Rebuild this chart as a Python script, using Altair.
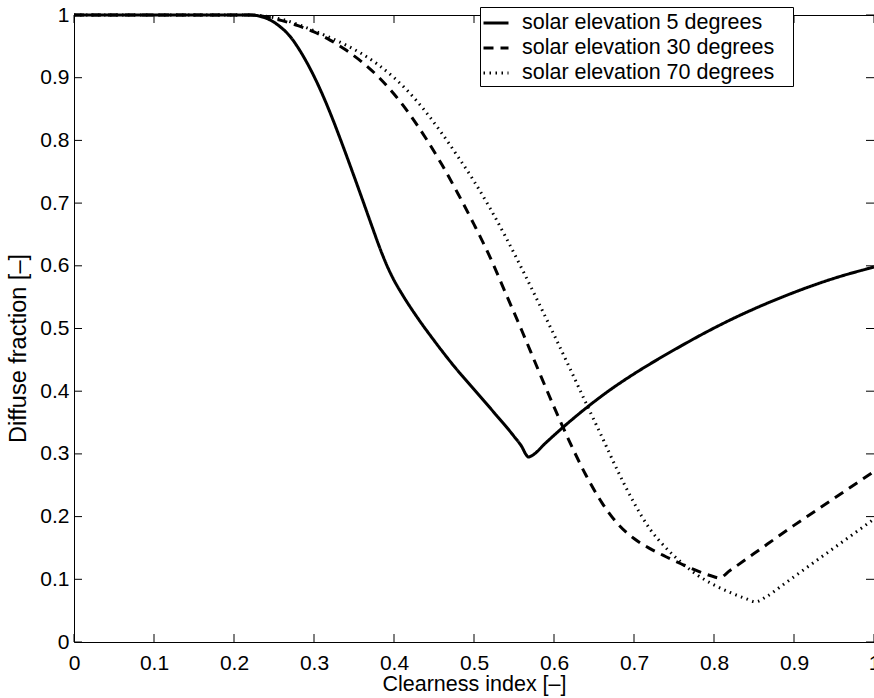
import altair as alt
import pandas as pd

series_names = ["solar elevation 5 degrees", "solar elevation 30 degrees", "solar elevation 70 degrees"]

x5 = [0.0, 0.1, 0.2, 0.22, 0.24, 0.257, 0.27, 0.282, 0.292, 0.302, 0.312, 0.323, 0.335, 0.348, 0.361,
      0.373, 0.383, 0.392, 0.4, 0.41, 0.43, 0.45, 0.475, 0.5, 0.525, 0.55, 0.56, 0.565, 0.568, 0.572,
      0.59, 0.61, 0.639, 0.67, 0.698, 0.73, 0.76, 0.79, 0.8225, 0.855, 0.885, 0.92, 0.95, 1.0]
y5 = [1.0, 1.0, 1.0, 1.0, 0.995, 0.982, 0.966, 0.944, 0.922, 0.897, 0.869, 0.835, 0.795, 0.75, 0.704,
      0.661, 0.626, 0.598, 0.577, 0.555, 0.516, 0.481, 0.44, 0.403, 0.366, 0.328, 0.311, 0.299, 0.295, 0.297,
      0.318, 0.341, 0.372, 0.402, 0.426, 0.451, 0.473, 0.494, 0.515, 0.534, 0.55, 0.567, 0.58, 0.598]

x30 = [0.0, 0.1, 0.2, 0.22, 0.24, 0.26, 0.28, 0.3, 0.32, 0.34, 0.36, 0.38, 0.4, 0.42, 0.44, 0.46,
       0.48, 0.5, 0.52, 0.54, 0.56, 0.58, 0.6, 0.62, 0.64, 0.66, 0.68, 0.7, 0.72, 0.74, 0.76, 0.78,
       0.8, 0.806, 0.82, 0.85, 0.9, 0.95, 1.0]
y30 = [1.0, 1.0, 1.0, 1.0, 0.997, 0.991, 0.983, 0.973, 0.96, 0.944, 0.925, 0.902, 0.874, 0.841, 0.803, 0.761,
       0.715, 0.666, 0.614, 0.555, 0.496, 0.435, 0.375, 0.318, 0.266, 0.222, 0.188, 0.165, 0.149, 0.136, 0.124, 0.113,
       0.104, 0.102, 0.114, 0.141, 0.186, 0.229, 0.272]

x70 = [0.0, 0.1, 0.2, 0.22, 0.24, 0.26, 0.28, 0.3, 0.32, 0.34, 0.36, 0.38, 0.4, 0.42, 0.44, 0.46,
       0.48, 0.5, 0.52, 0.54, 0.56, 0.58, 0.6, 0.62, 0.64, 0.66, 0.68, 0.7, 0.72, 0.74, 0.76, 0.78,
       0.8, 0.82, 0.84, 0.852, 0.865, 0.885, 0.9, 0.95, 1.0]
y70 = [1.0, 1.0, 1.0, 1.0, 0.998, 0.993, 0.985, 0.975, 0.964, 0.952, 0.938, 0.921, 0.9, 0.875, 0.845, 0.811,
       0.774, 0.735, 0.692, 0.645, 0.595, 0.543, 0.49, 0.436, 0.381, 0.327, 0.272, 0.222, 0.18, 0.15, 0.126, 0.106,
       0.091, 0.079, 0.069, 0.064, 0.072, 0.09, 0.104, 0.15, 0.196]

tick_values = [0.0, 0.1, 0.2, 0.3, 0.4, 0.5, 0.6, 0.7, 0.8, 0.9, 1.0]

rows = []
for name, xs, ys in zip(series_names, [x5, x30, x70], [y5, y30, y70]):
    for xv, yv in zip(xs, ys):
        rows.append({"series": name, "ci": xv, "df": yv})
df = pd.DataFrame(rows)
ticks_df = pd.DataFrame({"ci": tick_values, "df": tick_values})

W, H = 800, 627
FONT = "Liberation Sans"
TL = 8

xscale = alt.Scale(domain=[0, 1], nice=False, zero=False)
yscale = alt.Scale(domain=[0, 1], nice=False, zero=False)

xaxis = alt.Axis(values=tick_values, format="~g", title="Clearness index [–]", grid=False,
                 domain=False, ticks=False, tickSize=0, labelPadding=10, labelFontSize=21,
                 titleFontSize=21.5, titleBaseline="alphabetic", titleY=48, labelFlush=False)
yaxis = alt.Axis(values=tick_values, format="~g", title="Diffuse fraction [–]", grid=False,
                 domain=False, ticks=False, tickSize=0, labelPadding=5, labelFontSize=21,
                 titleFontSize=23.5, titleBaseline="alphabetic", titleX=-49, titleY=333,
                 titleAngle=-90, labelFlush=False)

X = alt.X("ci:Q", scale=xscale, axis=xaxis)
Y = alt.Y("df:Q", scale=yscale, axis=yaxis)

legend = alt.Legend(orient="none", legendX=406, legendY=-8, title=None, direction="vertical",
                    symbolType="stroke", symbolSize=625, symbolStrokeColor="black",
                    labelFont=FONT, labelFontSize=21.5, labelColor="black", labelOffset=12,
                    labelLimit=600, padding=2, rowPadding=0, strokeColor="black", fillColor="white",
                    cornerRadius=0, labelExpr="datum.label + '\u2800'")

lines = alt.Chart(df).mark_line(interpolate="monotone", color="black").encode(
    x=X, y=Y,
    order=alt.Order("ci:Q"),
    strokeDash=alt.StrokeDash("series:N", scale=alt.Scale(domain=series_names,
                              range=[[1, 0], [10, 7], [1.5, 4.5]]), legend=legend),
    strokeWidth=alt.StrokeWidth("series:N", scale=alt.Scale(domain=series_names, range=[3, 3, 1]),
                                legend=legend),
)

bottom_ticks = alt.Chart(ticks_df).mark_rule(color="black", strokeWidth=1).encode(
    x=X, y=alt.value(H), y2=alt.value(H - TL))
top_ticks = alt.Chart(ticks_df).mark_rule(color="black", strokeWidth=1).encode(
    x=X, y=alt.value(0), y2=alt.value(TL))
left_ticks = alt.Chart(ticks_df).mark_rule(color="black", strokeWidth=1).encode(
    y=Y, x=alt.value(0), x2=alt.value(TL))
right_ticks = alt.Chart(ticks_df).mark_rule(color="black", strokeWidth=1).encode(
    y=Y, x=alt.value(W), x2=alt.value(W - TL))

chart = alt.layer(bottom_ticks, top_ticks, left_ticks, right_ticks, lines).properties(
    width=W, height=H,
    autosize=alt.AutoSizeParams(type="none"),
    padding={"left": 74, "top": 15, "right": 0, "bottom": 56},
    background="white",
).configure_view(stroke="black", strokeWidth=1).configure_axis(
    labelFont=FONT, titleFont=FONT, labelColor="black", titleColor="black",
    titleFontWeight="normal",
)

chart.save("out.html", embed_options={"renderer": "svg", "actions": False})
